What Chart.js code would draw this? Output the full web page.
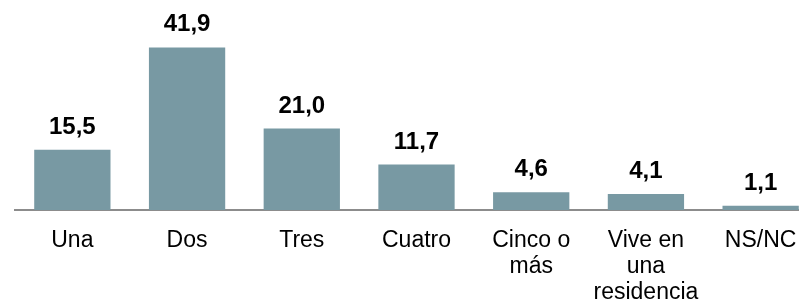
<!DOCTYPE html>
<html>
<head>
<meta charset="utf-8">
<script src="https://cdn.jsdelivr.net/npm/chart.js@4/dist/chart.umd.min.js"></script>
<style>
    html, body { margin: 0; padding: 0; background: #fff; overflow: hidden; }
    #wrap { width: 820px; height: 304px; }
</style>
</head>
<body>
<div id="wrap"><canvas id="chart" width="820" height="304"></canvas></div>
<script>
// categories (multi-line labels) and values
const categories = [
    ['Una'],
    ['Dos'],
    ['Tres'],
    ['Cuatro'],
    ['Cinco o', 'más'],
    ['Vive en', 'una', 'residencia'],
    ['NS/NC']
];
const values = [15.5, 41.9, 21.0, 11.7, 4.6, 4.1, 1.1];

const barColor = '#7899A3';

// draws the value above each bar, with a decimal comma
const valueLabels = {
    id: 'valueLabels',
    afterDatasetsDraw(chart) {
        const ctx = chart.ctx;
        const meta = chart.getDatasetMeta(0);
        ctx.save();
        ctx.font = 'bold 24px "Liberation Sans", Arial, sans-serif';
        ctx.fillStyle = '#000';
        ctx.textAlign = 'center';
        ctx.textBaseline = 'alphabetic';
        meta.data.forEach(function(bar, i) {
            const txt = values[i].toFixed(1).replace('.', ',');
            ctx.fillText(txt, bar.x, bar.y - 16);
        });
        ctx.restore();
    }
};

new Chart(document.getElementById('chart'), {
    type: 'bar',
    data: {
        labels: categories,
        datasets: [{
            data: values,
            backgroundColor: barColor,
            borderWidth: 0,
            categoryPercentage: 1,
            barPercentage: 0.665
        }]
    },
    options: {
        responsive: false,
        animation: false,
        layout: {
            padding: { left: 15, right: 2, top: 16, bottom: 0 }
        },
        plugins: {
            legend: { display: false },
            tooltip: { enabled: false }
        },
        scales: {
            x: {
                grid: { display: false, drawTicks: false },
                border: { display: true, color: '#8c8c8c', width: 2 },
                ticks: {
                    color: '#000',
                    padding: 17,
                    autoSkip: false,
                    maxRotation: 0,
                    font: { family: '"Liberation Sans", Arial, sans-serif', size: 23, lineHeight: 1.15 }
                },
                afterFit: function(scale) {
                    scale.height = 94;
                }
            },
            y: {
                display: false,
                min: 0,
                max: 50
            }
        }
    },
    plugins: [valueLabels]
});
</script>
</body>
</html>
